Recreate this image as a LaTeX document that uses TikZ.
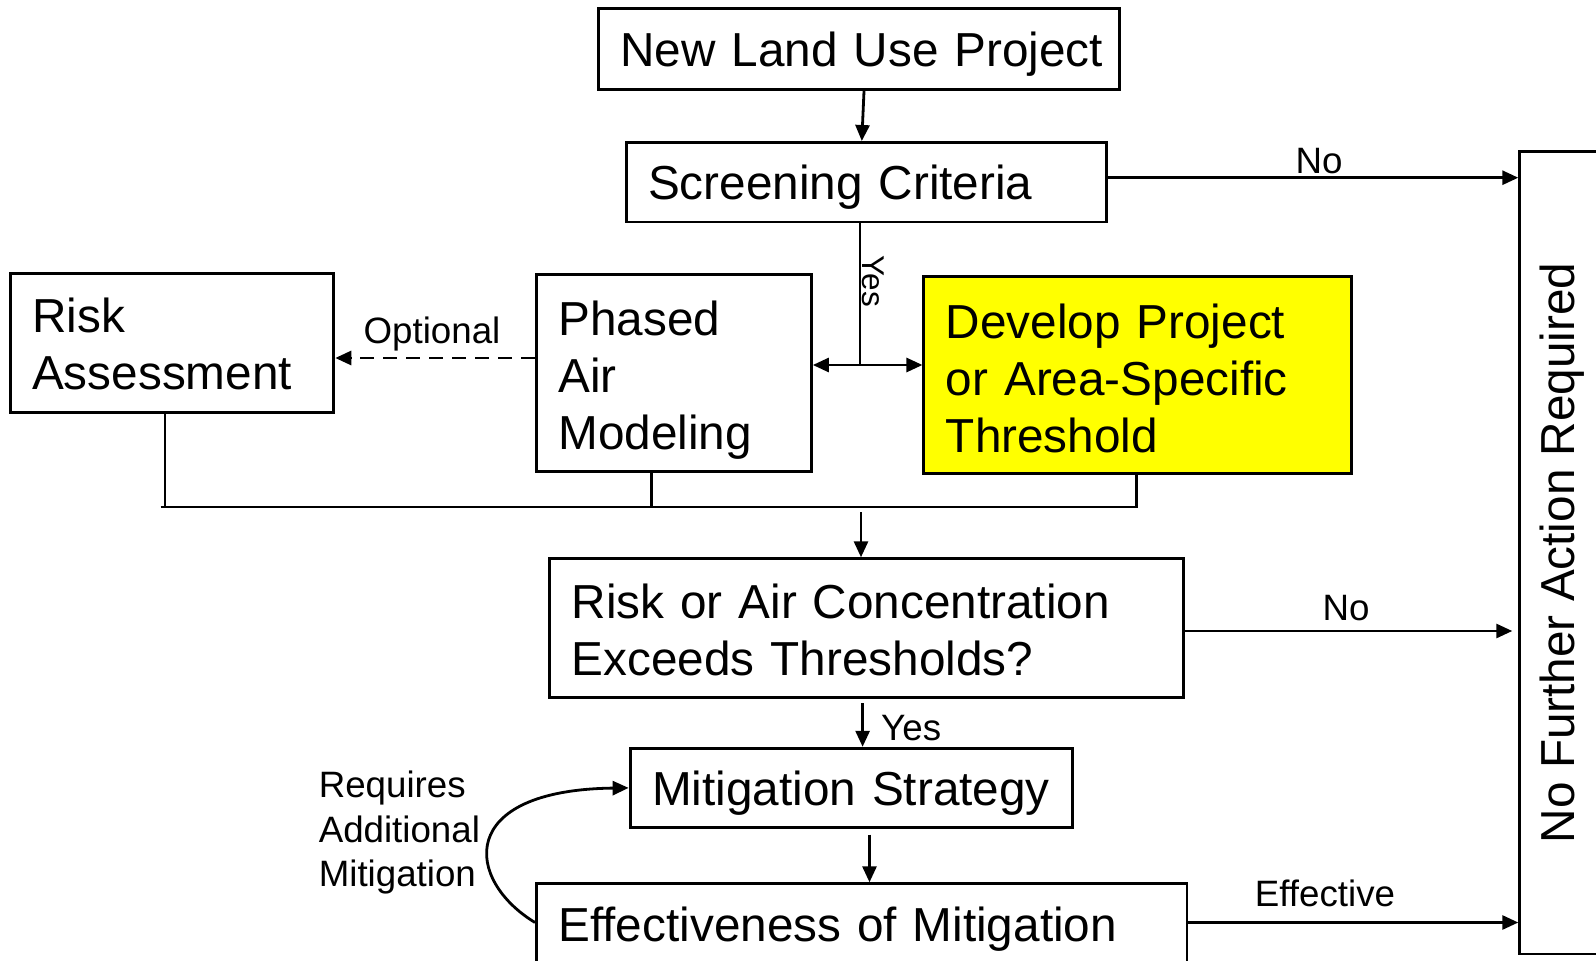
\documentclass[tikz,border=0pt]{standalone}
\usepackage{fontspec}
\setmainfont{Liberation Sans}
\usepackage{graphicx}
\usetikzlibrary{arrows.meta,calc}
\definecolor{boxyellow}{RGB}{255,255,0}
\newcommand\textlower[1]{\par\vspace*{-#1}\nointerlineskip\hbox{}}
\tikzset{
  box/.style n args={2}{draw, line width=2.9pt, rectangle, align=left,
    inner xsep=22pt, inner ysep=0pt, text width=#1pt-44pt,
    minimum height=#2pt, font=\fontsize{47.7pt}{57pt}\selectfont},
  lab/.style={inner sep=0pt, font=\fontsize{36.7pt}{44.5pt}\selectfont},
  conn/.style={line width=2.8pt},
  arr/.style={line width=2.8pt, -{Triangle[length=16pt,width=14pt]}},
  arrboth/.style={line width=2.8pt, {Triangle[length=16pt,width=14pt]}-{Triangle[length=16pt,width=14pt]}},
  dashline/.style={dash pattern=on 14pt off 9pt}
}
\begin{document}
\begin{tikzpicture}[x=1pt,y=-1pt]
\useasboundingbox (0,0) rectangle (1596,961);
\clip (0,0) rectangle (1596,961);

% boxes
\node[box={521}{81.5}] (NLUP) at (859,48.9) {New~Land~Use~Project\textlower{12pt}};
\node[box={480.5}{79.5}] (SC) at (866.3,182.2) {Screening~Criteria\textlower{12pt}};
\node[box={323.7}{138.4}] (RA) at (172,343) {Risk\\Assessment\textlower{2pt}};
\node[box={275}{196.5}] (PAM) at (673.9,373) {Phased\\Air\\Modeling\textlower{14pt}};
\node[box={427.6}{196.5}, fill=boxyellow] (DPT) at (1137.7,375) {Develop~Project\\or~Area-Specific\\Threshold\textlower{6pt}};
\node[box={634}{138.5}] (RACE) at (866.8,628) {Risk~or~Air~Concentration\\Exceeds~Thresholds?\textlower{4pt}};
\node[box={442.8}{79.3}] (MS) at (851.5,787.9) {Mitigation~Strategy\textlower{14pt}};
\node[box={650.5}{81.5}] (EoM) at (861.7,924.5) {Effectiveness~of~Mitigation\textlower{10pt}};
\node[draw, line width=2.9pt, inner sep=0pt, minimum width=84.5pt, minimum height=802.3pt,
      font=\fontsize{47.7pt}{57pt}\selectfont] (NFAR) at (1562,552.85)
      {\rotatebox{90}{No Further Action Required}};

% NLUP -> SC
\draw[arr] ([xshift=5pt]NLUP.south) -- ([xshift=-4.5pt]SC.north);

% SC -> NFAR (No)
\coordinate (a1) at ([yshift=4.5pt]SC.east);
\draw[arr] (a1) -- (a1 -| NFAR.west);
\node[lab] (no1) at (1319,161) {No};

% Yes split
\coordinate (j) at (860,365);
\draw[conn] (SC.south -| j) -- (j);
\draw[arrboth] (PAM.east |- j) -- (DPT.west |- j);
\node[inner sep=0pt, rotate=-90, font=\fontsize{31.5pt}{36pt}\selectfont] (yes1) at (873.5,281.5) {Yes};

% Optional dashed
\coordinate (o) at (0,358);
\draw[arr, dashline] (PAM.west |- o) -- (RA.east |- o);
\node[lab] (opt) at (432,334.5) {Optional};

% bus
\coordinate (bus) at (861,507);
\coordinate (busL) at (160.5,507);
\draw[conn] ([xshift=-7pt]RA.south) -- ([xshift=-7pt]RA.south |- bus);
\draw[conn] (busL) -- ([xshift=-1.4pt]DPT.south |- bus) -- ([xshift=-1.4pt]DPT.south);
\draw[conn] ([xshift=-22.4pt]PAM.south) -- ([xshift=-22.4pt]PAM.south |- bus);
\draw[arr] ([yshift=-5pt]bus) -- (bus |- RACE.north);

% RACE -> NFAR (No)
\coordinate (a2) at ([yshift=-3pt]RACE.east);
\draw[arr, shorten >=6pt] (a2) -- (a2 -| NFAR.west);
\node[lab] (no2) at (1346,608) {No};

% RACE -> MS (Yes)
\draw[arr] ([xshift=-4.2pt,yshift=-4.7pt]RACE.south) -- ([xshift=11.1pt]MS.north);
\node[lab, anchor=west] (yes2) at (881,728) {Yes};

% MS -> EoM
\draw[arr] ([xshift=18pt,yshift=-5.5pt]MS.south) -- ([xshift=7.8pt]EoM.north);

% EoM -> NFAR (Effective)
\coordinate (a3) at ([yshift=2pt]EoM.east);
\draw[arr] (a3) -- (a3 -| NFAR.west);
\node[lab] (eff) at (1325,893.4) {Effective};

% loop back
\draw[arr] ([yshift=2pt]EoM.west) .. controls (465,880) and (455,790) .. (MS.west);
\node[lab, anchor=west, align=left] (req) at (318.6,833) {Requires\\Additional\\Mitigation};

\end{tikzpicture}
\end{document}
